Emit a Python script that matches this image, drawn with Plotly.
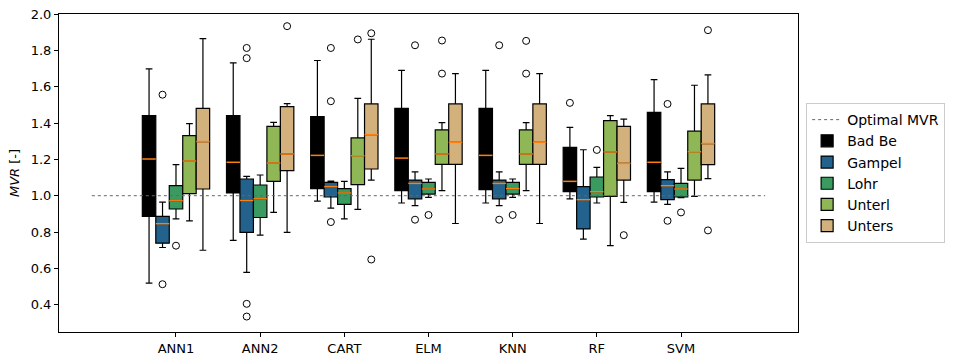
import plotly.graph_objects as go

MODELS = ["ANN1", "ANN2", "CART", "ELM", "KNN", "RF", "SVM"]
SERIES = ["Bad Be", "Gampel", "Lohr", "Unterl", "Unters"]
COLORS = ["#000000", "#22628c", "#3b9a60", "#90b755", "#d3b17c"]

# per series: lower whisker, q1, median, q3, upper whisker (one value per model)
BADBE_LO = [0.519, 0.754, 0.970, 0.960, 0.960, 0.983, 0.965]
BADBE_Q1 = [0.886, 1.015, 1.039, 1.028, 1.033, 1.022, 1.022]
BADBE_MED = [1.202, 1.184, 1.222, 1.207, 1.222, 1.079, 1.184]
BADBE_Q3 = [1.441, 1.441, 1.435, 1.481, 1.481, 1.266, 1.459]
BADBE_HI = [1.698, 1.731, 1.744, 1.690, 1.690, 1.376, 1.639]
BADBE_OUT = [[], [], [], [], [], [1.511], []]

GAMPEL_LO = [0.715, 0.578, 0.932, 0.945, 0.945, 0.761, 0.952]
GAMPEL_Q1 = [0.739, 0.798, 0.993, 0.983, 0.983, 0.817, 0.978]
GAMPEL_MED = [0.846, 0.974, 1.050, 1.068, 1.068, 0.978, 1.055]
GAMPEL_Q3 = [0.886, 1.092, 1.073, 1.086, 1.086, 1.050, 1.088]
GAMPEL_HI = [0.965, 1.106, 1.080, 1.131, 1.131, 1.253, 1.131]
GAMPEL_OUT = [[1.556, 0.513], [1.813, 1.757, 0.405, 0.335], [1.813, 1.520, 0.855],
              [1.828, 0.868], [1.828, 0.868], [], [1.505, 0.862]]

LOHR_LO = [0.873, 0.783, 0.873, 0.991, 0.991, 0.960, 0.990]
LOHR_Q1 = [0.927, 0.880, 0.952, 1.009, 1.009, 0.993, 0.993]
LOHR_MED = [0.972, 0.983, 1.015, 1.037, 1.039, 1.022, 1.037]
LOHR_Q3 = [1.055, 1.059, 1.039, 1.073, 1.073, 1.103, 1.068]
LOHR_HI = [1.171, 1.114, 1.079, 1.092, 1.092, 1.156, 1.151]
LOHR_OUT = [[0.725], [], [], [0.894], [0.894], [1.252], [0.908]]

UNTERL_LO = [0.862, 0.908, 0.925, 1.028, 1.028, 0.725, 0.996]
UNTERL_Q1 = [1.011, 1.079, 1.061, 1.173, 1.173, 0.996, 1.086]
UNTERL_MED = [1.191, 1.180, 1.220, 1.230, 1.230, 1.241, 1.242]
UNTERL_Q3 = [1.331, 1.382, 1.318, 1.362, 1.362, 1.413, 1.355]
UNTERL_HI = [1.397, 1.404, 1.536, 1.402, 1.402, 1.441, 1.608]
UNTERL_OUT = [[], [], [1.860], [1.854, 1.672], [1.852, 1.672], [], []]

UNTERS_LO = [0.700, 0.798, 1.086, 0.847, 0.847, 0.963, 1.094]
UNTERS_Q1 = [1.037, 1.138, 1.147, 1.173, 1.173, 1.086, 1.171]
UNTERS_MED = [1.298, 1.230, 1.336, 1.294, 1.294, 1.178, 1.287]
UNTERS_Q3 = [1.481, 1.490, 1.505, 1.505, 1.505, 1.382, 1.505]
UNTERS_HI = [1.865, 1.507, 1.861, 1.672, 1.672, 1.422, 1.665]
UNTERS_OUT = [[], [1.933], [1.894, 0.649], [], [], [0.783], [1.911, 0.809]]

OPTIMAL_MVR = 1.0
Y_TICKS = [0.4, 0.6, 0.8, 1.0, 1.2, 1.4, 1.6, 1.8, 2.0]

STATS = [
    (BADBE_LO, BADBE_Q1, BADBE_MED, BADBE_Q3, BADBE_HI, BADBE_OUT),
    (GAMPEL_LO, GAMPEL_Q1, GAMPEL_MED, GAMPEL_Q3, GAMPEL_HI, GAMPEL_OUT),
    (LOHR_LO, LOHR_Q1, LOHR_MED, LOHR_Q3, LOHR_HI, LOHR_OUT),
    (UNTERL_LO, UNTERL_Q1, UNTERL_MED, UNTERL_Q3, UNTERL_HI, UNTERL_OUT),
    (UNTERS_LO, UNTERS_Q1, UNTERS_MED, UNTERS_Q3, UNTERS_HI, UNTERS_OUT),
]

BOX_W = 0.16
FONT = "DejaVu Sans"

fig = go.Figure()

fig.add_trace(go.Scatter(
    x=[-1, len(MODELS)], y=[OPTIMAL_MVR, OPTIMAL_MVR], mode="lines",
    line=dict(color="#666666", width=1, dash="dot"), name="Optimal MVR",
))

n = len(SERIES)
for k, (name, color, st) in enumerate(zip(SERIES, COLORS, STATS)):
    lo, q1, med, q3, hi, outs = st
    off = (k - (n - 1) / 2) * BOX_W
    xs = [i + off for i in range(len(MODELS))]
    fig.add_trace(go.Box(
        x=xs, q1=q1, median=med, q3=q3, lowerfence=lo, upperfence=hi,
        width=BOX_W, whiskerwidth=0.5, fillcolor=color,
        line=dict(color="black", width=1.2), boxpoints=False,
        name=name, hoverinfo="skip",
    ))
    mx, my = [], []
    for x, m in zip(xs, med):
        mx += [x - BOX_W / 2, x + BOX_W / 2, None]
        my += [m, m, None]
    fig.add_trace(go.Scatter(x=mx, y=my, mode="lines",
                             line=dict(color="#ff7f0e", width=1.5),
                             showlegend=False, hoverinfo="skip"))
    ox, oy = [], []
    for x, vals in zip(xs, outs):
        for v in vals:
            ox.append(x)
            oy.append(v)
    fig.add_trace(go.Scatter(x=ox, y=oy, mode="markers",
                             marker=dict(symbol="circle-open", size=7,
                                         color="black", line=dict(width=1)),
                             showlegend=False, hoverinfo="skip"))

axis_common = dict(showline=True, linecolor="black", linewidth=1, mirror=True,
                   ticks="outside", ticklen=4, tickcolor="black", showgrid=False,
                   zeroline=False, automargin=False,
                   tickfont=dict(family=FONT, size=13, color="black"))

fig.update_layout(
    width=957, height=358,
    margin=dict(l=59, r=155, t=14, b=26),
    plot_bgcolor="white", paper_bgcolor="white",
    boxmode="overlay",
    font=dict(family=FONT, size=13, color="black"),
    xaxis=dict(range=[-1.39, len(MODELS) - 1 + 1.39], tickvals=list(range(len(MODELS))),
               ticktext=MODELS, **axis_common),
    yaxis=dict(range=[0.25, 2.0], tickvals=Y_TICKS, tickformat=".1f",
               title=dict(text="<i>MVR</i> [-]", font=dict(family=FONT, size=13), standoff=8),
               **axis_common),
    legend=dict(x=1.011, y=0.72, xanchor="left", yanchor="top",
                bordercolor="#cccccc", borderwidth=1, bgcolor="white",
                font=dict(family=FONT, size=14), tracegroupgap=0),
)

fig.write_html("out.html", config={"displayModeBar": False},
               post_script="document.body.style.margin='0';")
